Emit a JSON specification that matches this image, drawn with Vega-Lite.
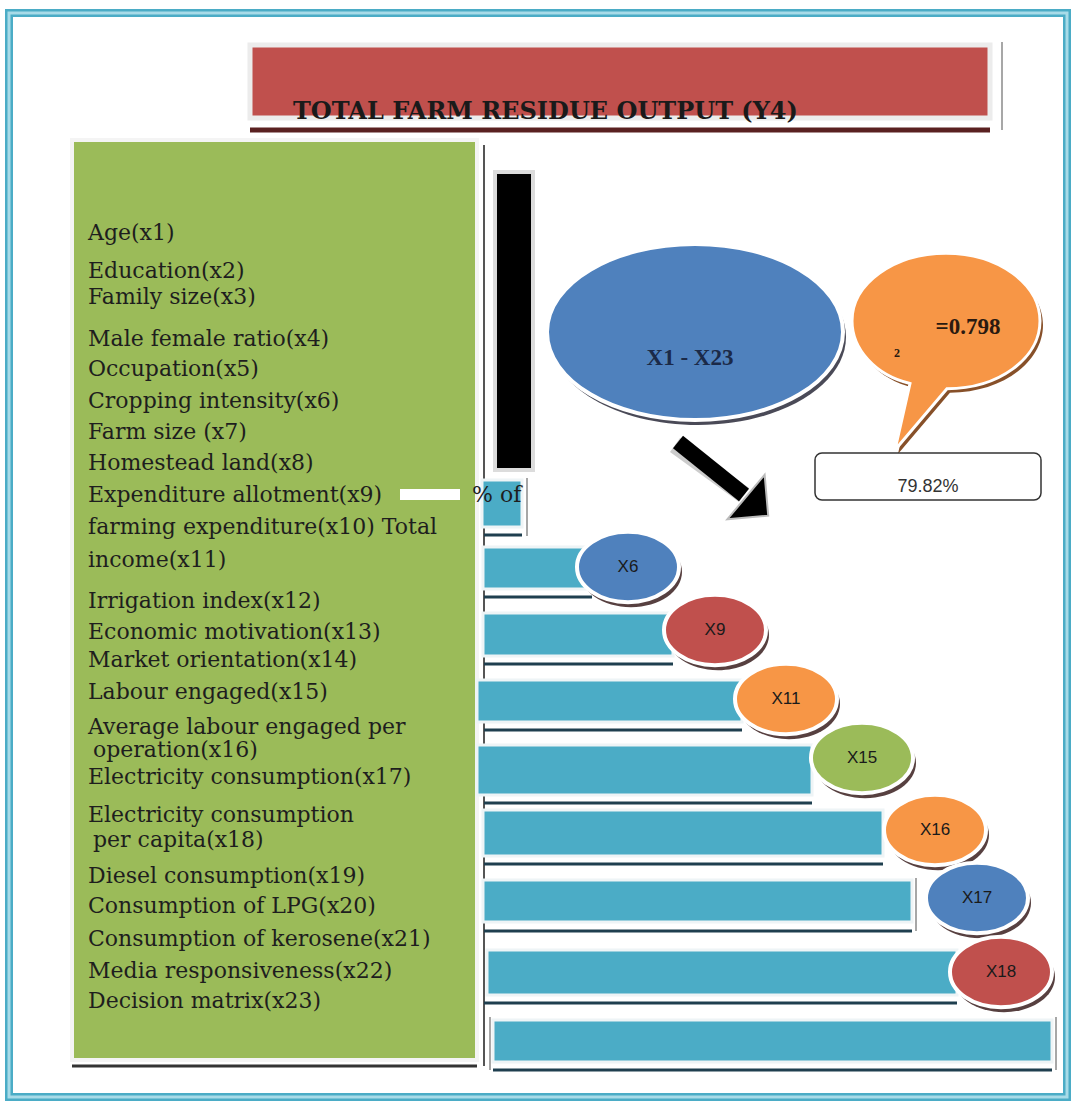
{
  "$schema": "https://vega.github.io/schema/vega-lite/v6.json",
  "width": 1071,
  "height": 1101,
  "autosize": {"type": "none"},
  "padding": 0,
  "background": "white",
  "config": {"view": {"stroke": null}},
  "datasets": {
    "frame": [{"x": 9, "x2": 1067, "y": 13, "y2": 1097}],
    "titlebox": [{"x": 250, "x2": 990, "y": 45, "y2": 118}],
    "titleline": [{"x": 250, "x2": 990, "y": 130, "y2": 130}],
    "title": [{"x": 293, "y": 119, "text": "TOTAL FARM RESIDUE OUTPUT (Y4)"}],
    "panel": [{"x": 72, "x2": 477, "y": 140, "y2": 1060}],
    "panelline": [{"x": 72, "x2": 477, "y": 1066, "y2": 1066}],
    "divider": [{"x": 484, "x2": 484, "y": 145, "y2": 1066}],
    "edges": [
      {"x": 1002, "x2": 1002, "y": 42, "y2": 130},
      {"x": 527, "x2": 527, "y": 478, "y2": 536},
      {"x": 916, "x2": 916, "y": 878, "y2": 931},
      {"x": 490, "x2": 490, "y": 1017, "y2": 1070},
      {"x": 1056, "x2": 1056, "y": 1017, "y2": 1070}
    ],
    "blackbar": [{"x": 495, "x2": 533, "y": 172, "y2": 470}],
    "gap": [{"x": 400, "x2": 460, "y": 489, "y2": 500}],
    "bars": [
      {"step": 1, "x": 482, "x2": 522, "y": 480, "y2": 527},
      {"step": 2, "x": 483, "x2": 592, "y": 547, "y2": 589},
      {"step": 3, "x": 483, "x2": 673, "y": 613, "y2": 656},
      {"step": 4, "x": 477, "x2": 742, "y": 680, "y2": 722},
      {"step": 5, "x": 477, "x2": 812, "y": 745, "y2": 795},
      {"step": 6, "x": 483, "x2": 883, "y": 810, "y2": 856},
      {"step": 7, "x": 483, "x2": 912, "y": 880, "y2": 922},
      {"step": 8, "x": 487, "x2": 957, "y": 950, "y2": 995},
      {"step": 9, "x": 493, "x2": 1052, "y": 1020, "y2": 1062}
    ],
    "underlines": [
      {"step": 1, "x": 484, "x2": 522, "y": 535, "y2": 535},
      {"step": 2, "x": 484, "x2": 592, "y": 597, "y2": 597},
      {"step": 3, "x": 484, "x2": 673, "y": 664, "y2": 664},
      {"step": 4, "x": 484, "x2": 742, "y": 730, "y2": 730},
      {"step": 5, "x": 484, "x2": 812, "y": 803, "y2": 803},
      {"step": 6, "x": 484, "x2": 883, "y": 864, "y2": 864},
      {"step": 7, "x": 484, "x2": 912, "y": 931, "y2": 931},
      {"step": 8, "x": 484, "x2": 957, "y": 1003, "y2": 1003},
      {"step": 9, "x": 493, "x2": 1052, "y": 1070, "y2": 1070}
    ],
    "labels": [
      {"x": 88, "y": 233, "text": "Age(x1)"},
      {"x": 88, "y": 271, "text": "Education(x2)"},
      {"x": 88, "y": 297, "text": "Family size(x3)"},
      {"x": 88, "y": 339, "text": "Male female  ratio(x4)"},
      {"x": 88, "y": 369, "text": "Occupation(x5)"},
      {"x": 88, "y": 401, "text": "Cropping intensity(x6)"},
      {"x": 88, "y": 432, "text": "Farm size (x7)"},
      {"x": 88, "y": 463, "text": "Homestead land(x8)"},
      {"x": 88, "y": 495, "text": "Expenditure allotment(x9)"},
      {"x": 472, "y": 495, "text": "% of"},
      {"x": 88, "y": 527, "text": "farming expenditure(x10)  Total"},
      {"x": 88, "y": 560, "text": "income(x11)"},
      {"x": 88, "y": 601, "text": "Irrigation  index(x12)"},
      {"x": 88, "y": 632, "text": "Economic motivation(x13)"},
      {"x": 88, "y": 660, "text": "Market orientation(x14)"},
      {"x": 88, "y": 692, "text": "Labour engaged(x15)"},
      {"x": 88, "y": 727, "text": "Average labour  engaged per"},
      {"x": 93, "y": 750, "text": "operation(x16)"},
      {"x": 88, "y": 777, "text": "Electricity  consumption(x17)"},
      {"x": 88, "y": 815, "text": "Electricity  consumption"},
      {"x": 93, "y": 840, "text": "per capita(x18)"},
      {"x": 88, "y": 876, "text": "Diesel consumption(x19)"},
      {"x": 88, "y": 906, "text": "Consumption of LPG(x20)"},
      {"x": 88, "y": 939, "text": "Consumption of kerosene(x21)"},
      {"x": 88, "y": 971, "text": "Media responsiveness(x22)"},
      {"x": 88, "y": 1001, "text": "Decision matrix(x23)"}
    ],
    "sig": [
      {"var": "X6", "x": 628, "y": 567},
      {"var": "X9", "x": 715, "y": 630},
      {"var": "X11", "x": 786, "y": 699},
      {"var": "X15", "x": 862, "y": 758},
      {"var": "X16", "x": 935, "y": 830},
      {"var": "X17", "x": 977, "y": 898},
      {"var": "X18", "x": 1001, "y": 972}
    ],
    "group": [{"x": 695, "y": 332, "text": "X1 - X23", "tx": 690, "ty": 358}],
    "bubble": [{"x": 946, "y": 321}],
    "r2": [{"x": 968, "y": 327, "text": "=0.798", "sup": "2", "sx": 897, "sy": 353}],
    "pctbox": [{"x": 815, "x2": 1041, "y": 453, "y2": 500, "text": "79.82%", "tx": 928, "ty": 487}],
    "arrow": [{"x": 678, "y": 442, "x2": 744, "y2": 495}],
    "arrowhead": [{"x": 746, "y": 497}]
  },
  "encoding": {
    "x": {"field": "x", "type": "quantitative", "scale": {"domain": [0, 1071], "nice": false, "zero": false}, "axis": null},
    "y": {"field": "y", "type": "quantitative", "scale": {"domain": [0, 1101], "nice": false, "zero": false, "reverse": true}, "axis": null}
  },
  "layer": [
    {"data": {"name": "frame"}, "mark": {"type": "rect", "fill": null, "stroke": "#4bacc6", "strokeWidth": 8},
     "encoding": {"x2": {"field": "x2"}, "y2": {"field": "y2"}}},
    {"data": {"name": "frame"}, "mark": {"type": "rect", "fill": null, "stroke": "#a8dbe8", "strokeWidth": 3},
     "encoding": {"x2": {"field": "x2"}, "y2": {"field": "y2"}}},
    {"data": {"name": "titlebox"}, "mark": {"type": "rect", "fill": "#c0504d", "stroke": "#ececec", "strokeWidth": 5},
     "encoding": {"x2": {"field": "x2"}, "y2": {"field": "y2"}}},
    {"data": {"name": "titleline"}, "mark": {"type": "rule", "stroke": "#5a2121", "strokeWidth": 5},
     "encoding": {"x2": {"field": "x2"}, "y2": {"field": "y2"}}},
    {"data": {"name": "title"}, "mark": {"type": "text", "font": "DejaVu Serif", "fontWeight": "bold", "fontSize": 24, "align": "left", "baseline": "alphabetic", "color": "#1a1a1a"},
     "encoding": {"text": {"field": "text"}}},
    {"data": {"name": "panel"}, "mark": {"type": "rect", "fill": "#9bbb59", "stroke": "#f4f4f4", "strokeWidth": 4},
     "encoding": {"x2": {"field": "x2"}, "y2": {"field": "y2"}}},
    {"data": {"name": "panelline"}, "mark": {"type": "rule", "stroke": "#333333", "strokeWidth": 3},
     "encoding": {"x2": {"field": "x2"}, "y2": {"field": "y2"}}},
    {"data": {"name": "divider"}, "mark": {"type": "rule", "stroke": "#555555", "strokeWidth": 2},
     "encoding": {"x2": {"field": "x2"}, "y2": {"field": "y2"}}},
    {"data": {"name": "edges"}, "mark": {"type": "rule", "stroke": "#8a8a8a", "strokeWidth": 1.5},
     "encoding": {"x2": {"field": "x2"}, "y2": {"field": "y2"}}},
    {"data": {"name": "blackbar"}, "mark": {"type": "rect", "fill": "#000000", "stroke": "#dcdcdc", "strokeWidth": 4},
     "encoding": {"x2": {"field": "x2"}, "y2": {"field": "y2"}}},
    {"data": {"name": "gap"}, "mark": {"type": "rect", "fill": "#ffffff"},
     "encoding": {"x2": {"field": "x2"}, "y2": {"field": "y2"}}},
    {"data": {"name": "bars"}, "mark": {"type": "rect", "fill": "#4bacc6", "stroke": "#eef4f6", "strokeWidth": 3},
     "encoding": {"x2": {"field": "x2"}, "y2": {"field": "y2"}}},
    {"data": {"name": "underlines"}, "mark": {"type": "rule", "stroke": "#1f3f4f", "strokeWidth": 3},
     "encoding": {"x2": {"field": "x2"}, "y2": {"field": "y2"}}},
    {"data": {"name": "labels"}, "mark": {"type": "text", "font": "DejaVu Serif", "fontSize": 22, "align": "left", "baseline": "middle", "color": "#1e1e1e"},
     "encoding": {"text": {"field": "text"}}},
    {"data": {"name": "group"}, "mark": {"type": "point", "shape": "M 1 0 C 1 0.329 0.552 0.595 0 0.595 C -0.552 0.595 -1 0.329 -1 0 C -1 -0.329 -0.552 -0.595 0 -0.595 C 0.552 -0.595 1 -0.329 1 0 Z", "size": 87616, "filled": true, "fill": "#2a2a3a", "opacity": 0.85, "xOffset": 3, "yOffset": 5}},
    {"data": {"name": "group"}, "mark": {"type": "point", "shape": "M 1 0 C 1 0.329 0.552 0.595 0 0.595 C -0.552 0.595 -1 0.329 -1 0 C -1 -0.329 -0.552 -0.595 0 -0.595 C 0.552 -0.595 1 -0.329 1 0 Z", "size": 87616, "filled": true, "fill": "#4f81bd", "stroke": "#ffffff", "strokeWidth": 4, "opacity": 1}},
    {"data": {"name": "group"}, "mark": {"type": "text", "font": "Liberation Serif", "fontWeight": "bold", "fontSize": 23, "align": "center", "baseline": "middle", "color": "#1b2a48"},
     "encoding": {"x": {"field": "tx", "type": "quantitative"}, "y": {"field": "ty", "type": "quantitative"}, "text": {"field": "text"}}},
    {"data": {"name": "arrow"}, "mark": {"type": "rule", "stroke": "#cccccc", "strokeWidth": 17, "xOffset": -3, "yOffset": 3},
     "encoding": {"x2": {"field": "x2"}, "y2": {"field": "y2"}}},
    {"data": {"name": "arrow"}, "mark": {"type": "rule", "stroke": "#000000", "strokeWidth": 16},
     "encoding": {"x2": {"field": "x2"}, "y2": {"field": "y2"}}},
    {"data": {"name": "arrowhead"}, "mark": {"type": "point", "shape": "M 0 -1 L 1 0 L 0 1 Z", "size": 3364, "angle": 40, "filled": true, "fill": "#000000", "stroke": "#bbbbbb", "strokeWidth": 2, "opacity": 1}},
    {"data": {"name": "bubble"}, "mark": {"type": "point", "shape": "M -0.383 0.665 L -0.543 1.372 L 0.01 0.72 C 0.56 0.72 1 0.398 1 0 C 1 -0.398 0.552 -0.72 0 -0.72 C -0.552 -0.72 -1 -0.398 -1 0 C -1 0.3 -0.75 0.58 -0.383 0.665 Z", "size": 35344, "filled": true, "fill": "#7a3d12", "opacity": 0.9, "xOffset": 3, "yOffset": 4}},
    {"data": {"name": "bubble"}, "mark": {"type": "point", "shape": "M -0.383 0.665 L -0.543 1.372 L 0.01 0.72 C 0.56 0.72 1 0.398 1 0 C 1 -0.398 0.552 -0.72 0 -0.72 C -0.552 -0.72 -1 -0.398 -1 0 C -1 0.3 -0.75 0.58 -0.383 0.665 Z", "size": 35344, "filled": true, "fill": "#f79646", "stroke": "#ffffff", "strokeWidth": 3, "opacity": 1}},
    {"data": {"name": "r2"}, "mark": {"type": "text", "font": "Liberation Serif", "fontWeight": "bold", "fontSize": 23, "align": "center", "baseline": "middle", "color": "#2a1a10"},
     "encoding": {"text": {"field": "text"}}},
    {"data": {"name": "r2"}, "mark": {"type": "text", "font": "Liberation Serif", "fontWeight": "bold", "fontSize": 12, "align": "center", "baseline": "middle", "color": "#2a1a10"},
     "encoding": {"x": {"field": "sx", "type": "quantitative"}, "y": {"field": "sy", "type": "quantitative"}, "text": {"field": "sup"}}},
    {"data": {"name": "pctbox"}, "mark": {"type": "rect", "fill": "#ffffff", "stroke": "#333333", "strokeWidth": 1.5, "cornerRadius": 7},
     "encoding": {"x2": {"field": "x2"}, "y2": {"field": "y2"}}},
    {"data": {"name": "pctbox"}, "mark": {"type": "text", "font": "Liberation Sans", "fontSize": 18, "align": "center", "baseline": "middle", "color": "#333333"},
     "encoding": {"x": {"field": "tx", "type": "quantitative"}, "y": {"field": "ty", "type": "quantitative"}, "text": {"field": "text"}}},
    {"data": {"name": "sig"}, "mark": {"type": "point", "shape": "M 1 0 C 1 0.381 0.552 0.69 0 0.69 C -0.552 0.69 -1 0.381 -1 0 C -1 -0.381 -0.552 -0.69 0 -0.69 C 0.552 -0.69 1 -0.381 1 0 Z", "size": 10404, "filled": true, "fill": "#3a1f1f", "opacity": 0.85, "xOffset": 3, "yOffset": 5}},
    {"data": {"name": "sig"}, "mark": {"type": "point", "shape": "M 1 0 C 1 0.381 0.552 0.69 0 0.69 C -0.552 0.69 -1 0.381 -1 0 C -1 -0.381 -0.552 -0.69 0 -0.69 C 0.552 -0.69 1 -0.381 1 0 Z", "size": 10404, "filled": true, "stroke": "#ffffff", "strokeWidth": 4, "opacity": 1},
     "encoding": {"fill": {"field": "var", "type": "nominal", "legend": null, "scale": {"domain": ["X6", "X9", "X11", "X15", "X16", "X17", "X18"], "range": ["#4f81bd", "#c0504d", "#f79646", "#9bbb59", "#f79646", "#4f81bd", "#c0504d"]}}}},
    {"data": {"name": "sig"}, "mark": {"type": "text", "font": "Liberation Sans", "fontSize": 17, "align": "center", "baseline": "middle", "color": "#1a1a1a"},
     "encoding": {"text": {"field": "var"}}}
  ]
}
